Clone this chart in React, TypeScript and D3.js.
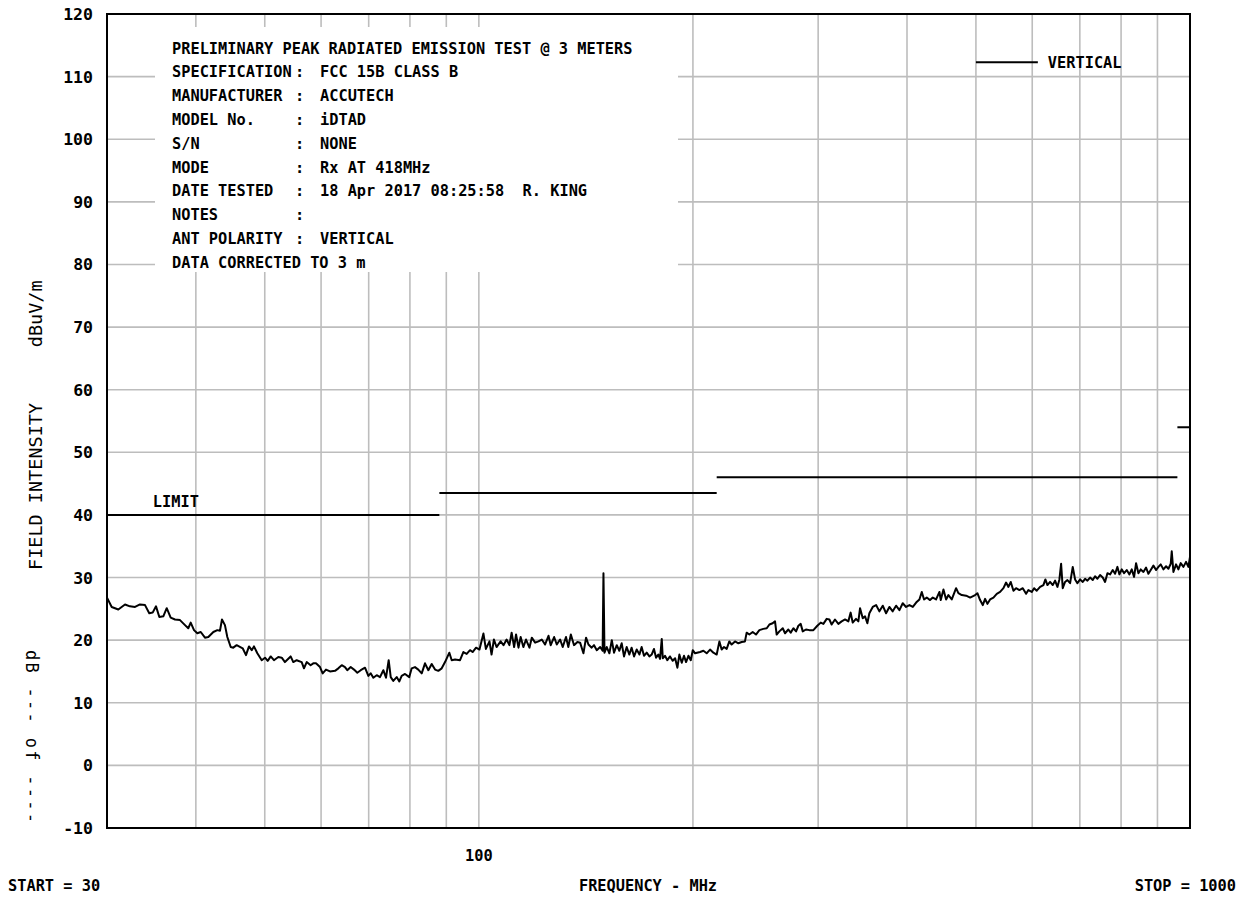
import React from "react";
import * as d3 from "d3";

// axis / grid
const yTicks = [-10, 0, 10, 20, 30, 40, 50, 60, 70, 80, 90, 100, 110, 120];
const gridFreqs = [40, 50, 60, 70, 80, 90, 100, 200, 300, 400, 500, 600, 700, 800, 900];

// FCC 15B class B limit segments
const limitStart = [30, 88, 216, 960];
const limitStop = [88, 216, 960, 1000];
const limitLevel = [40, 43.5, 46, 54];

const headerTitle = "PRELIMINARY PEAK RADIATED EMISSION TEST @ 3 METERS";
const headerLabels = ["SPECIFICATION", "MANUFACTURER", "MODEL No.", "S/N", "MODE", "DATE TESTED", "NOTES", "ANT POLARITY"];
const headerValues = ["FCC 15B CLASS B", "ACCUTECH", "iDTAD", "NONE", "Rx AT 418MHz", "18 Apr 2017 08:25:58  R. KING", "", "VERTICAL"];
const headerFooter = "DATA CORRECTED TO 3 m";

// measured peak trace (MHz, dBuV/m)
const traceFreq = [
  30.0, 30.46, 31.12, 31.8, 32.31, 32.85, 33.38, 33.93, 34.4, 34.78, 35.16, 35.54, 36.0, 36.4, 36.87, 37.39, 38.0, 38.62, 39.03, 39.34,
  39.76, 40.19, 40.64, 41.2, 41.65, 42.33, 42.88, 43.25, 43.53, 43.95, 44.29, 44.78, 45.15, 45.65, 46.55, 47.05, 47.51, 47.93, 48.28, 48.81,
  49.51, 50.04, 50.48, 50.97, 51.51, 52.24, 52.82, 53.38, 54.37, 54.84, 55.44, 56.35, 56.77, 57.27, 58.0, 58.5, 59.02, 59.79, 60.31, 60.96,
  61.76, 62.77, 63.45, 64.15, 64.83, 65.31, 66.04, 66.75, 67.47, 68.22, 69.17, 69.92, 70.45, 71.06, 71.84, 72.61, 73.4, 74.04, 74.68, 75.18,
  75.8, 76.64, 77.3, 77.89, 78.74, 79.83, 80.46, 81.32, 82.2, 83.11, 84.0, 84.92, 85.84, 86.78, 87.7, 88.67, 89.63, 90.89, 91.59, 92.58,
  94.09, 95.1, 96.14, 97.18, 98.0, 99.1, 100.2,
  101.5, 102.3, 103.5, 104.2, 105.0, 105.9, 107.3, 108.3, 109.4, 110.4, 111.2, 112.1, 112.8, 113.7, 114.5, 115.5, 116.5, 117.8, 118.7, 120.0,
  121.3, 122.6, 123.9, 125.3, 126.2, 127.6, 128.7, 130.1, 131.2, 132.6, 133.6, 134.7, 136.1, 137.6, 138.8, 140.3, 141.5, 142.6, 144.1, 145.2,
  146.5, 148.1, 149.3, 149.7, 150.2, 151.3, 152.6, 153.8, 154.9, 156.3, 157.6, 158.8, 160.0, 161.4, 162.8, 164.0, 165.3, 166.7, 168.2, 169.4,
  170.7, 172.2, 173.7, 175.0, 176.3, 177.5, 178.8, 179.8, 180.8, 181.4, 182.7, 184.1, 185.7, 187.3, 188.8, 190.2, 191.4, 192.9, 194.3, 195.6,
  197.1, 198.6, 199.9, 201.4, 204.7, 206.9, 209.1, 211.4, 213.7, 216.0, 217.9, 219.5, 221.2, 223.1, 225.0, 226.7, 229.2, 231.7, 234.2, 236.7,
  238.0, 240.1, 242.7, 245.3, 248.0, 251.2, 254.0, 256.2, 258.9, 260.9, 262.3, 264.6, 267.5, 269.5, 272.4, 274.5, 276.9, 279.3, 281.4, 283.5,
  285.4, 288.4, 291.6, 295.4, 299.2, 302.5, 305.1, 308.4, 311.1, 313.4, 316.8, 320.3, 323.7, 327.3, 330.8, 333.3, 335.5, 339.1, 341.7,
  343.6, 346.6, 349.2, 351.8, 354.1, 358.0, 361.9, 365.8, 369.8, 373.8, 377.8, 381.9, 386.1, 390.3, 394.5, 398.8, 403.2, 407.6, 412.0, 416.4,
  419.6, 422.7, 426.4, 431.0, 434.8, 439.5, 444.3, 446.2, 450.1, 454.0, 457.4, 462.4, 468.9, 472.4, 477.6, 484.4, 490.7, 498.7, 502.4, 506.8,
  511.2, 515.1, 519.0, 523.5, 529.2, 534.9, 540.7, 546.6, 551.3, 555.5, 559.7, 564.6, 569.4, 575.6, 581.9, 588.2, 592.6, 599.1, 603.6, 608.8,
  615.5, 622.1, 626.1, 630.3, 635.7, 641.2, 646.1, 651.0, 655.2, 658.8, 662.3, 667.3, 672.4, 678.3, 684.1, 689.3, 694.5, 700.6, 706.7, 712.0,
  717.4, 723.6, 729.9, 735.4, 741.0, 747.4, 753.9, 759.6, 765.4, 772.0, 778.7, 784.6, 790.6, 795.7, 801.7, 807.8, 814.8, 821.9, 828.1, 834.4,
  839.8, 846.2, 852.5, 860.0, 867.4, 874.0, 880.6, 888.3, 896.0, 902.8, 909.6, 917.5, 925.5, 932.5, 939.5, 942.6, 947.7, 955.9, 963.1, 970.4,
  978.9, 987.3, 994.8, 1000,
];
const traceLevel = [
  26.8, 25.3, 24.9, 25.7, 25.4, 25.3, 25.7, 25.6, 24.3, 24.4, 25.4, 23.7, 23.8, 25.1, 23.6, 23.3, 23.2, 22.4, 21.9, 22.8,
  21.6, 21.1, 21.3, 20.4, 20.5, 21.3, 21.6, 21.5, 23.3, 22.4, 20.5, 18.9, 18.8, 19.2, 18.7, 17.6, 19.0, 18.4, 19.0, 17.9,
  16.8, 17.2, 16.7, 17.4, 16.8, 17.3, 17.2, 16.5, 17.4, 16.5, 16.8, 16.5, 15.5, 16.5, 16.0, 16.3, 16.3, 15.7, 14.7, 15.3,
  15.0, 15.1, 15.5, 16.0, 15.7, 15.2, 15.7, 15.3, 14.8, 15.2, 15.6, 14.3, 14.7, 14.0, 14.4, 14.1, 15.2, 14.0, 16.8, 14.1,
  13.5, 14.1, 13.4, 14.3, 14.6, 14.1, 15.5, 15.7, 15.3, 14.7, 16.3, 15.2, 16.2, 15.3, 15.1, 15.5, 16.5, 18.0, 16.8, 16.9,
  16.8, 18.1, 17.8, 18.4, 18.1, 18.8, 18.5,
  21.05, 18.6, 19.8, 17.7, 20.1, 18.9, 19.8, 19.2, 20.1, 19.2, 21.2, 18.9, 20.9, 18.8, 20.5, 18.9, 20.1, 18.8, 20.4, 19.6,
  19.8, 20.1, 19.3, 20.7, 19.2, 20.5, 19.3, 20.1, 18.9, 20.5, 18.9, 20.9, 19.2, 19.7, 19.6, 17.9, 20.4, 19.3, 18.8, 19.2,
  18.4, 18.9, 18.3, 30.7, 18.0, 18.9, 17.9, 20.0, 18.0, 19.2, 18.3, 19.5, 17.4, 18.9, 17.7, 18.8, 17.4, 18.5, 17.7, 18.9,
  17.5, 18.0, 17.4, 17.7, 18.6, 17.2, 17.7, 17.0, 20.2, 17.1, 17.5, 16.8, 17.4, 16.7, 17.1, 15.6, 17.7, 16.4, 17.5, 16.5,
  17.5, 16.8, 18.4, 17.9, 18.1, 18.3, 17.9, 18.5, 18.0, 17.7, 19.8, 18.5, 18.9, 18.6, 19.8, 19.3, 19.8, 19.5, 19.7, 19.8,
  21.2, 20.9, 21.3, 20.9, 21.6, 21.8, 21.9, 22.5, 22.7, 23.0, 20.9, 21.4, 21.9, 21.1, 21.7, 21.2, 21.9, 21.4, 22.3, 22.6,
  21.4, 21.7, 21.6, 21.6, 22.3, 22.8, 22.6, 23.4, 23.3, 22.5, 23.3, 22.6, 23.0, 23.3, 23.0, 24.4, 22.8, 23.4, 23.0,
  25.1, 23.5, 23.8, 22.7, 24.3, 25.3, 25.6, 24.6, 25.5, 24.3, 25.3, 24.6, 25.5, 24.8, 25.9, 25.3, 25.6, 25.3, 26.0, 26.5,
  27.7, 26.5, 26.8, 26.4, 26.8, 26.5, 27.7, 26.4, 28.1, 26.5, 27.2, 26.5, 28.3, 27.5, 27.2, 27.1, 26.8, 27.2, 27.5, 26.4,
  25.6, 26.6, 25.8, 26.5, 26.8, 27.4, 27.7, 28.3, 29.2, 28.5, 29.3, 27.9, 28.3, 28.0, 28.3, 27.4, 28.0, 27.7, 28.3, 27.9,
  28.5, 28.8, 29.7, 28.8, 29.3, 28.8, 29.5, 28.5, 29.7, 32.2, 28.3, 29.3, 29.6, 29.1, 31.7, 29.7, 29.1, 29.7, 29.3, 29.8,
  29.5, 30.0, 29.6, 30.2, 29.8, 30.4, 30.0, 29.3, 30.7, 30.5, 31.2, 30.6, 31.7, 30.5, 31.3, 30.7, 31.2, 30.5, 31.3, 30.1,
  32.3, 30.7, 31.3, 30.9, 31.6, 30.6, 31.2, 31.9, 31.2, 31.7, 32.1, 31.3, 31.8, 31.4, 32.2, 34.2, 30.9, 32.1, 31.3, 32.3,
  31.7, 32.5, 31.7, 33.3,
];

// legend key line (MHz span, level)
const legendFreq = [500, 611];
const legendLevel = 112.3;

const MONO = "'DejaVu Sans Mono', monospace";
const pre = { whiteSpace: "pre" as const };

export default function App() {
  const W = 1241;
  const H = 898;
  const x = d3.scaleLog().domain([30, 1000]).range([107, 1190]);
  const y = d3.scaleLinear().domain([-10, 120]).range([828, 14]);

  const pts: [number, number][] = traceFreq.map((f, i) => [f, traceLevel[i]]);
  const line = d3
    .line<[number, number]>()
    .x((d) => x(d[0]))
    .y((d) => y(d[1]));

  const [x0, x1] = x.range();
  const [yb, yt] = y.range();

  // header box (blank area over the grid)
  const box = { x: 155, y: 27, w: 523, h: 245 };
  const lineH = 23.8;
  const textX = 172;
  const colonX = 295;
  const valueX = 320;
  const base = (i: number) => 48 + i * lineH + 5.5;

  return (
    <div style={{ position: "fixed", left: 0, top: 0 }}>
      <svg width={W} height={H} style={{ display: "block", background: "#fff" }}>
        <g className="grid" stroke="#bdbdbd" strokeWidth={1.6}>
          {yTicks
            .filter((v) => v > -10 && v < 120)
            .map((v) => (
              <line key={"h" + v} x1={x0} x2={x1} y1={y(v)} y2={y(v)} />
            ))}
          {gridFreqs.map((f) => (
            <line key={"v" + f} x1={x(f)} x2={x(f)} y1={yb} y2={yt} />
          ))}
        </g>

        <rect x={box.x} y={box.y} width={box.w} height={box.h} fill="#fff" />

        <rect x={x0} y={yt} width={x1 - x0} height={yb - yt} fill="none" stroke="#000" strokeWidth={2} />

        {/* limit */}
        <g stroke="#000" strokeWidth={2}>
          {limitLevel.map((lv, i) => (
            <line key={"l" + i} x1={x(limitStart[i])} x2={x(limitStop[i])} y1={y(lv)} y2={y(lv)} />
          ))}
        </g>

        <path d={line(pts) || ""} fill="none" stroke="#000" strokeWidth={2} strokeLinejoin="round" />

        {/* legend */}
        <line x1={x(legendFreq[0])} x2={x(legendFreq[1])} y1={y(legendLevel)} y2={y(legendLevel)} stroke="#000" strokeWidth={2} />
        <text x={x(legendFreq[1]) + 10} y={y(legendLevel) + 5.5} fontFamily={MONO} fontSize={15.3} fontWeight="bold">
          VERTICAL
        </text>

        <text x={x(34.8)} y={y(40) - 8} fontFamily={MONO} fontSize={15.3} fontWeight="bold">
          LIMIT
        </text>

        {/* header text */}
        <g fontFamily={MONO} fontSize={15.3} fontWeight="bold" fill="#000">
          <text x={textX} y={base(0)}>{headerTitle}</text>
          {headerLabels.map((lab, i) => (
            <g key={lab}>
              <text x={textX} y={base(i + 1)}>{lab}</text>
              <text x={colonX} y={base(i + 1)}>:</text>
              <text x={valueX} y={base(i + 1)} style={pre} xmlSpace="preserve">{headerValues[i]}</text>
            </g>
          ))}
          <text x={textX} y={base(9)}>{headerFooter}</text>
        </g>

        {/* y tick labels */}
        <g fontFamily={MONO} fontSize={16.5} fontWeight="bold" textAnchor="end">
          {yTicks.map((v) => (
            <text key={"t" + v} x={93} y={y(v) + 6}>
              {v}
            </text>
          ))}
        </g>

        {/* x labels */}
        <g fontFamily={MONO} fontSize={15.3} fontWeight="bold">
          <text x={x(100)} y={861} textAnchor="middle">100</text>
          <text x={8} y={891}>START = 30</text>
          <text x={648} y={891} textAnchor="middle">FREQUENCY - MHz</text>
          <text x={1236} y={891} textAnchor="end">STOP = 1000</text>
        </g>

        {/* y axis title */}
        <text transform="translate(42,570) rotate(-90)" fontFamily={MONO} fontSize={18.5} style={pre} xmlSpace="preserve">
          {"FIELD INTENSITY     dBuV/m"}
        </text>
        <text transform="translate(26,650) rotate(90)" fontFamily={MONO} fontSize={17} textLength={173} lengthAdjust="spacing" style={pre} xmlSpace="preserve">
          {"dB --- of ----"}
        </text>
      </svg>
    </div>
  );
}
